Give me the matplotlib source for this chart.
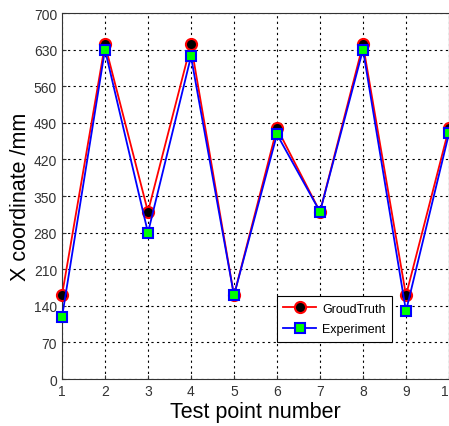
import matplotlib.pyplot as plt
import numpy as np

plt.rcParams['font.family'] = ['Liberation Sans', 'DejaVu Sans']

points = np.arange(1, 11)
ground_truth = [160, 640, 320, 640, 160, 480, 320, 640, 160, 480]
experiment = [118, 630, 280, 617, 160, 468, 320, 630, 130, 470]
yticks = [0, 70, 140, 210, 280, 350, 420, 490, 560, 630, 700]

fig = plt.figure(figsize=(4.49, 4.27), dpi=100)
ax = fig.add_axes([0.138, 0.110, 0.862, 0.857])

ax.plot(points, ground_truth, color='red', lw=1.3, marker='o', markersize=8,
        markerfacecolor='black', markeredgecolor='red', markeredgewidth=1.5,
        label='GroudTruth', clip_on=False, zorder=3)
ax.plot(points, experiment, color='blue', lw=1.3, marker='s', markersize=7,
        markerfacecolor='#00ff00', markeredgecolor='blue', markeredgewidth=1.5,
        label='Experiment', clip_on=False, zorder=4)

ax.set_xlim(1, 10)
ax.set_ylim(0, 700)
ax.set_xticks(points)
ax.set_yticks(yticks)
ax.grid(True, color='black', linestyle=(0, (2, 3)), linewidth=0.8)
ax.tick_params(labelsize=10, direction='in', length=3, colors='#333333')
for s in ax.spines.values():
    s.set_color('#333333')

ax.set_xlabel('Test point number', fontsize=15.5, labelpad=2)
ax.set_ylabel('X coordinate /mm', fontsize=15.5, labelpad=2)

leg = ax.legend(loc='lower left', bbox_to_anchor=(0.54, 0.085), fontsize=9,
                fancybox=False, edgecolor='black', framealpha=1,
                handlelength=2.6, borderpad=0.5, labelspacing=0.7,
                handletextpad=0.5)
leg.get_frame().set_linewidth(0.8)

fig.savefig('out.png', dpi=100)
